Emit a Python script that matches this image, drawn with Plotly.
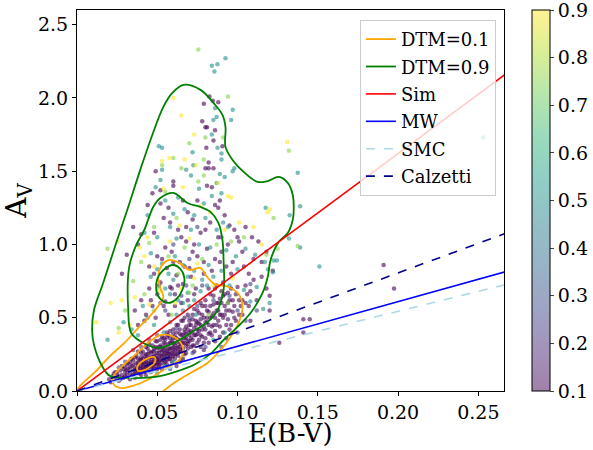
import plotly.graph_objects as go
import plotly.colors as pc

# ---------------- data ----------------
# scatter points grouped by DTM value (colour)
purple_x = [0.020,0.022,0.024,0.025,0.026,0.027,0.028,0.029,0.030,0.030,0.031,0.032,0.032,0.033,0.034,0.034,0.035,0.035,0.036,0.036,
            0.037,0.037,0.038,0.038,0.039,0.039,0.040,0.040,0.040,0.041,0.041,0.042,0.042,0.043,0.043,0.043,0.044,0.044,0.044,0.045,
            0.045,0.045,0.046,0.046,0.046,0.047,0.047,0.047,0.048,0.048,0.048,0.049,0.049,0.049,0.050,0.050,0.050,0.051,0.051,0.051,
            0.052,0.052,0.053,0.053,0.053,0.054,0.054,0.054,0.055,0.055,0.056,0.056,0.056,0.057,0.057,0.058,0.058,0.058,0.059,0.059,
            0.060,0.060,0.060,0.061,0.061,0.062,0.062,0.063,0.063,0.064,0.064,0.065,0.065,0.066,0.066,0.067,0.067,0.068,0.068,0.069,
            0.069,0.070,0.070,0.071,0.071,0.072,0.072,0.073,0.073,0.074,0.075,0.075,0.076,0.076,0.077,0.078,0.078,0.079,0.080,0.080,
            0.081,0.082,0.083,0.083,0.084,0.085,0.085,0.086,0.087,0.088,0.089,0.090,0.091,0.092,0.093,0.094,0.095,0.096,0.097,0.098,
            0.100,0.102,0.104,0.106,0.108,0.110,0.112,0.115,0.118,0.120,0.122,
            0.023,0.027,0.029,0.031,0.033,0.034,0.036,0.037,0.038,0.039,0.040,0.041,0.042,0.043,0.044,0.045,0.046,0.047,0.048,0.049,
            0.050,0.050,0.051,0.052,0.052,0.053,0.054,0.055,0.055,0.056,0.057,0.057,0.058,0.059,0.060,0.060,0.061,0.062,0.062,0.063,
            0.064,0.065,0.066,0.067,0.067,0.068,0.069,0.070,0.071,0.072,0.073,0.074,0.075,0.076,0.077,0.078,0.079,0.080,0.081,0.082,
            0.083,0.084,0.085,0.086,0.087,0.088,0.089,0.090,0.091,0.092,0.093,0.094,0.095,0.096,0.098,0.099,0.101,0.103,0.105,0.107,
            0.021,0.024,0.026,0.028,0.030,0.031,0.033,0.033,0.035,0.035,0.036,0.037,0.038,0.038,0.039,0.040,0.040,0.041,0.041,0.042,
            0.042,0.043,0.043,0.044,0.044,0.045,0.045,0.046,0.046,0.047,0.047,0.048,0.048,0.049,0.049,0.050,0.050,0.051,0.051,0.052,
            0.052,0.053,0.053,0.054,0.054,0.055,0.055,0.056,0.056,0.057,0.057,0.058,0.058,0.059,0.059,0.060,0.060,0.061,0.061,0.062,
            0.062,0.063,0.063,0.064,0.064,0.065,0.065,0.066,0.067,0.067,0.068,0.069,0.069,0.070,0.070,0.071,0.072,0.072,0.073,0.074,
            0.075,0.075,0.076,0.077,0.078,0.079,0.080,0.080,0.081,0.082,0.083,0.084,0.085,0.086,0.087,0.088,0.089,0.090,0.091,0.092,
            0.094,0.096,0.097,0.099,0.101,0.103,0.105,0.108,0.064,0.068,0.073,0.077,0.082,0.086,0.089,0.093,0.062,0.066,0.079,0.095,
            0.036,0.040,0.042,0.045,0.047,0.048,0.050,0.052,0.053,0.055,0.056,0.058,0.059,0.061,0.062,0.064,0.066,0.068,0.070,0.072,
            0.074,0.077,0.079,0.081,0.083,0.086,0.088,0.090,0.092,0.094,0.097,0.100,0.103,0.107,0.110,0.115,0.118,0.120,0.126,0.141,
            0.145,0.141,0.191,0.1975,
            0.038,0.043,0.046,0.049,0.051,0.054,0.057,0.059,0.061,0.063,0.065,0.067,0.069,0.071,0.073,0.075,0.077,0.079,0.082,0.084,
            0.087,0.089,0.091,0.093,0.060,0.055,0.050,0.065,0.073,0.080,0.045,0.048,0.058,0.068,
            0.035,0.040,0.044,0.047,0.049,0.052,0.054,0.057,0.060,0.060,0.063,0.066,0.069,0.072,0.075,0.078,0.079,0.080,0.081,0.0825,
            0.0846,0.088,0.086,0.085,0.0806,0.0906,0.082,0.080,0.082,0.085,0.081,0.084,0.086,0.088,0.089,0.095,0.098,0.101,0.105,0.109,
            0.113,0.052,0.038,0.031,0.028]
purple_y = [0.08,0.10,0.09,0.12,0.10,0.14,0.11,0.09,0.13,0.16,0.11,0.15,0.19,0.12,0.17,0.10,0.14,0.21,0.16,0.12,
            0.19,0.24,0.14,0.17,0.21,0.12,0.16,0.19,0.26,0.14,0.22,0.18,0.13,0.20,0.25,0.16,0.15,0.19,0.29,0.17,
            0.22,0.13,0.20,0.26,0.16,0.18,0.23,0.31,0.15,0.21,0.27,0.19,0.24,0.17,0.22,0.29,0.34,0.20,0.26,0.16,
            0.24,0.31,0.21,0.27,0.37,0.19,0.25,0.33,0.23,0.29,0.21,0.27,0.40,0.25,0.32,0.22,0.29,0.36,0.26,0.34,
            0.24,0.30,0.42,0.28,0.37,0.25,0.33,0.30,0.45,0.27,0.39,0.32,0.35,0.29,0.48,0.36,0.42,0.31,0.39,0.34,
            0.52,0.38,0.45,0.30,0.41,0.35,0.49,0.43,0.56,0.38,0.47,0.33,0.41,0.53,0.45,0.37,0.58,0.50,0.42,0.62,
            0.47,0.54,0.40,0.66,0.51,0.45,0.59,0.70,0.55,0.48,0.63,0.52,0.74,0.58,0.45,0.67,0.55,0.80,0.62,0.50,
            0.71,0.58,0.85,0.66,0.48,0.76,0.62,0.88,0.70,0.55,0.82,
            0.12,0.08,0.15,0.18,0.08,0.22,0.09,0.13,0.22,0.16,0.11,0.18,0.24,0.11,0.23,0.27,0.13,0.16,0.24,0.30,
            0.15,0.19,0.23,0.18,0.28,0.15,0.22,0.26,0.35,0.18,0.29,0.38,0.25,0.20,0.27,0.36,0.22,0.29,0.40,0.24,
            0.33,0.28,0.38,0.25,0.33,0.44,0.29,0.34,0.36,0.40,0.31,0.45,0.39,0.35,0.49,0.42,0.33,0.47,0.55,0.39,
            0.50,0.44,0.53,0.41,0.60,0.55,0.44,0.60,0.50,0.66,0.55,0.49,0.62,0.45,0.58,0.66,0.52,0.62,0.72,0.58,
            0.06,0.13,0.07,0.17,0.10,0.14,0.16,0.20,0.11,0.18,0.23,0.15,0.19,0.27,0.14,0.21,0.23,0.16,0.27,0.20,
            0.15,0.22,0.30,0.17,0.25,0.19,0.32,0.23,0.18,0.27,0.20,0.29,0.18,0.22,0.34,0.26,0.21,0.30,0.18,0.21,
            0.35,0.24,0.30,0.28,0.36,0.20,0.32,0.24,0.37,0.27,0.22,0.33,0.41,0.29,0.23,0.33,0.39,0.31,0.25,0.36,
            0.45,0.27,0.35,0.30,0.42,0.38,0.48,0.33,0.40,0.50,0.36,0.42,0.32,0.48,0.40,0.45,0.52,0.31,0.38,0.48,
            0.55,0.42,0.46,0.38,0.52,0.44,0.58,0.36,0.50,0.45,0.58,0.38,0.65,0.50,0.45,0.60,0.52,0.68,0.40,0.52,
            0.60,0.70,0.54,0.48,0.62,0.52,0.60,0.68,0.20,0.26,0.27,0.30,0.33,0.34,0.37,0.36,0.17,0.22,0.28,0.42,
            0.55,0.62,0.48,0.70,0.58,0.80,0.66,0.74,0.90,0.61,0.84,0.71,0.95,0.66,0.79,0.88,0.73,1.02,0.84,0.95,
            0.70,1.08,0.88,0.97,1.15,0.90,1.05,0.95,1.20,1.00,0.88,1.05,0.95,0.80,0.90,0.78,0.95,0.65,0.33,0.49,
            0.49,0.40,0.86,0.70,
            0.45,0.52,0.62,0.50,0.72,0.58,0.52,0.70,0.58,0.72,0.60,0.85,0.62,0.78,0.66,0.92,0.60,0.80,0.70,0.82,
            0.72,0.88,0.65,0.85,0.88,0.98,0.92,1.05,1.00,1.10,0.85,1.08,1.15,1.12,
            1.12,1.07,1.27,1.35,1.50,1.37,1.18,1.25,1.43,1.40,1.10,1.30,1.22,1.17,1.30,1.84,1.96,1.80,1.80,2.01,
            1.98,1.97,1.78,1.71,1.66,1.67,1.56,1.52,1.52,1.52,1.40,1.39,1.27,1.25,1.30,1.13,1.10,1.02,1.12,1.05,
            1.02,1.28,1.00,0.93,0.80]

indigo_x = [0.045,0.055,0.065,0.075,0.085,0.095,0.062,0.070,0.078,0.050,0.080,0.090,0.100,0.105,0.112,0.070,0.060,0.075,0.090,0.108,
            0.040,0.035,0.030,0.026,0.058,0.065,0.072,0.100,0.068,0.052]
indigo_y = [0.35,0.55,0.65,0.58,0.62,0.65,0.43,0.50,0.72,0.38,0.30,0.30,0.40,0.48,0.55,0.90,1.00,1.12,1.05,0.73,
            0.30,0.28,0.20,0.16,0.15,0.22,0.26,0.55,0.72,0.60]

teal_x = [0.084,0.0875,0.0856,0.0925,0.097,0.086,0.087,0.096,0.085,0.084,0.051,0.053,0.0875,0.072,0.090,0.090,0.053,0.068,0.0725,0.097,
          0.098,0.071,0.089,0.092,0.052,0.049,0.087,0.090,0.079,0.076,0.084,0.055,0.063,0.067,0.073,0.080,0.091,0.094,0.060,0.044,
          0.042,0.050,0.058,0.062,0.071,0.076,0.083,0.087,0.093,0.099,0.105,0.111,0.117,0.122,0.1245,0.1225,0.119,0.1175,0.139,0.1325,
          0.1375,0.139,0.132,0.151,0.253,0.046,0.053,0.057,0.061,0.066,0.069,0.073,0.078,0.082,0.046,0.050,0.055,0.058,0.060,0.063,
          0.066,0.069,0.073,0.077,0.081,0.085,0.090,0.095,0.100,0.104,0.108,0.112,0.116,0.120,0.041,0.044,0.048,0.038,0.034,0.029,
          0.019,0.054,0.058,0.062,0.066,0.070,0.074,0.085,0.092,0.055,0.060,0.050]
teal_y = [2.22,2.23,2.18,2.27,1.92,1.93,1.87,1.85,1.85,1.75,1.67,1.66,1.66,1.63,1.62,1.58,1.51,1.51,1.54,1.50,
          1.52,1.47,1.48,1.46,1.44,1.39,1.42,1.35,1.28,1.38,1.33,1.30,1.32,1.24,1.20,1.18,1.15,1.12,1.21,1.20,
          1.08,1.05,1.12,1.04,1.10,1.00,0.98,1.10,0.96,0.92,0.97,0.93,0.88,0.81,0.89,0.89,0.83,1.25,1.26,1.20,
          1.49,0.98,1.04,0.85,1.73,0.94,0.87,0.80,0.92,0.86,0.78,0.82,0.76,0.86,0.78,0.83,0.70,0.66,0.76,0.62,
          0.60,0.67,0.62,0.68,0.72,0.78,0.82,0.72,0.83,0.69,0.61,0.71,0.56,0.60,0.58,0.50,0.45,0.38,0.42,0.47,
          0.35,0.40,0.47,0.52,0.55,0.58,0.52,0.35,0.40,0.17,0.20,0.12]

green_x = [0.0756,0.094,0.080,0.091,0.070,0.060,0.079,0.053,0.065,0.0756,0.079,0.1375,0.132,0.1225,0.019,0.026,0.040,0.045,0.050,0.057,
           0.063,0.067,0.070,0.078,0.087,0.096,0.104,0.118,0.125,0.042,0.048,0.035,0.059,0.072,0.062,0.055,0.048,0.082,0.030,0.094]
green_y = [2.33,2.01,1.73,1.73,1.69,1.59,1.58,1.54,1.52,1.43,1.47,0.99,1.64,1.18,0.97,0.43,0.88,1.01,0.70,0.92,
           0.80,0.98,0.67,0.90,1.00,1.02,1.05,0.93,0.97,0.66,0.55,0.75,0.52,0.72,1.18,1.36,1.12,0.52,0.55,0.60]

yellow_x = [0.060,0.065,0.073,0.0575,0.067,0.074,0.053,0.131,0.120,0.119,0.054,0.094,0.096,0.088,0.012,0.026,0.042,0.044,0.048,0.058,
            0.064,0.070,0.075,0.083,0.092,0.101,0.110,0.036,0.033,0.045,0.052,0.065,0.073,0.085,0.097,0.061,0.021,0.028,0.025,0.115,
            0.077,0.066,0.039]
yellow_y = [2.00,1.88,1.75,1.59,1.58,1.54,1.57,1.70,1.24,1.22,1.38,1.33,1.32,1.42,0.47,0.40,0.92,1.05,0.85,1.02,
            1.13,1.04,0.87,1.22,1.10,1.15,1.12,0.64,0.45,0.59,0.68,0.70,0.77,0.72,0.77,0.60,0.60,0.62,1.02,1.00,
            1.26,1.39,0.98]

group_values = {"purple": 0.1, "indigo": 0.25, "teal": 0.5, "green": 0.75, "yellow": 0.9}

# colour-bar ticks
cbar_ticks = [0.1, 0.2, 0.3, 0.4, 0.5, 0.6, 0.7, 0.8, 0.9]

# density contours (closed paths)
orange_outer_x = [-0.0044,0.0013,0.0113,0.020,0.030,0.0388,0.0456,0.0506,0.0538,0.0519,0.0506,0.0525,0.0575,0.0638,0.070,0.0769,0.0806,0.0856,0.0944,0.1006,
                  0.1031,0.1006,0.0956,0.0894,0.0813,0.0706,0.0613,0.0531,0.0469,-0.0044]
orange_outer_y = [-0.075,0.027,0.130,0.232,0.334,0.437,0.512,0.580,0.642,0.703,0.785,0.853,0.894,0.874,0.826,0.840,0.785,0.730,0.710,0.662,
                  0.573,0.464,0.369,0.280,0.191,0.123,0.061,-0.007,-0.075,-0.075]
orange_mid_x = [0.0519,0.0594,0.0644,0.0663,0.0638,0.0581,0.0519,0.0438,0.0363,0.0281,0.0231,0.0225,0.0269,0.0375,0.0456,0.0519]
orange_mid_y = [0.382,0.375,0.334,0.280,0.212,0.171,0.130,0.075,0.041,0.020,0.041,0.096,0.157,0.259,0.341,0.382]
orange_in_x = [0.0375,0.040,0.0444,0.0481,0.0488,0.0463,0.0419,0.0381,0.0375]
orange_in_y = [0.164,0.198,0.225,0.232,0.205,0.171,0.143,0.137,0.164]

green_outer_x = [0.0663,0.0769,0.085,0.0906,0.0925,0.0925,0.0969,0.1038,0.1125,0.1188,0.1256,0.1313,0.1344,0.135,0.1344,0.1313,0.1256,0.1206,0.1188,0.1156,
                 0.1081,0.100,0.0913,0.0831,0.0738,0.0613,0.0488,0.0331,0.0206,0.0156,0.0106,0.0094,0.0106,0.0163,0.0244,0.0313,0.0394,0.0469,0.0538,0.0594,0.0663]
green_outer_y = [2.089,2.055,1.966,1.884,1.802,1.666,1.577,1.495,1.427,1.433,1.461,1.420,1.338,1.235,1.167,1.078,1.017,0.894,0.778,0.669,
                 0.532,0.437,0.348,0.253,0.184,0.130,0.096,0.089,0.102,0.171,0.314,0.416,0.553,0.737,1.010,1.235,1.509,1.747,1.939,2.034,2.089]
green_mid_x = [0.060,0.0688,0.0769,0.0831,0.0881,0.0906,0.0913,0.0913,0.0869,0.0806,0.0706,0.0638,0.0513,0.0413,0.0338,0.0319,0.0325,0.0369,0.0419,0.0475,0.0519,0.060]
green_mid_y = [1.352,1.283,1.256,1.222,1.147,1.031,0.894,0.689,0.539,0.464,0.396,0.348,0.294,0.328,0.396,0.553,0.846,0.997,1.099,1.256,1.317,1.352]
green_in_x = [0.060,0.0644,0.0669,0.0656,0.0619,0.0569,0.0519,0.0494,0.050,0.0538,0.060]
green_in_y = [0.860,0.833,0.771,0.689,0.628,0.601,0.628,0.689,0.765,0.826,0.860]

# extinction laws A_V = R * E(B-V)
ebv_ends = [0.0, 0.27]
R_sim, R_mw, R_smc, R_calz = 8.1, 3.05, 2.72, 4.03

# ---------------- figure ----------------
FONT = "DejaVu Serif"
fig = go.Figure()

all_x, all_y, all_c = [], [], []
for name, xs, ys in [("purple", purple_x, purple_y), ("indigo", indigo_x, indigo_y),
                     ("teal", teal_x, teal_y), ("green", green_x, green_y), ("yellow", yellow_x, yellow_y)]:
    all_x += xs
    all_y += ys
    all_c += [group_values[name]] * len(xs)

fig.add_trace(go.Scatter(x=all_x, y=all_y, mode="markers", showlegend=False, hoverinfo="skip",
                         marker=dict(size=4.5, color=all_c, colorscale="Viridis", cmin=0.1, cmax=0.9,
                                     opacity=0.6, line=dict(width=0))))

def contour(xs, ys, color, name, show):
    fig.add_trace(go.Scatter(x=xs, y=ys, mode="lines", name=name, showlegend=show, legendgroup=name,
                             line=dict(color=color, width=1.8, shape="spline", smoothing=1.0), hoverinfo="skip"))

contour(orange_outer_x, orange_outer_y, "#ffa500", "DTM=0.1", True)
contour(orange_mid_x, orange_mid_y, "#ffa500", "DTM=0.1", False)
contour(orange_in_x, orange_in_y, "#ffa500", "DTM=0.1", False)
contour(green_outer_x, green_outer_y, "#008000", "DTM=0.9", True)
contour(green_mid_x, green_mid_y, "#008000", "DTM=0.9", False)
contour(green_in_x, green_in_y, "#008000", "DTM=0.9", False)

for name, R, color, dash in [("Sim", R_sim, "#ff0000", "solid"), ("MW", R_mw, "#0000ff", "solid"),
                             ("SMC", R_smc, "#add8e6", "dash"), ("Calzetti", R_calz, "#00008b", "dash")]:
    fig.add_trace(go.Scatter(x=ebv_ends, y=[R * e for e in ebv_ends], mode="lines", name=name, legendgroup=name,
                             line=dict(color=color, width=1.6, dash=dash), hoverinfo="skip"))

# faded viridis for the colour bar (alpha 0.5 on white)
faded = []
vir = pc.sequential.Viridis
for i, h in enumerate(vir):
    r, g, b = pc.hex_to_rgb(h)
    faded.append([i / (len(vir) - 1), f"rgb({int(0.5*r+127.5)},{int(0.5*g+127.5)},{int(0.5*b+127.5)})"])

tick_pos = [min(max(t, 0.1 + 1e-6), 0.9 - 1e-6) for t in cbar_ticks]
fig.add_trace(go.Scatter(x=[None], y=[None], mode="markers", showlegend=False, hoverinfo="skip",
                         marker=dict(color=[0.5], colorscale=faded, cmin=0.1, cmax=0.9, showscale=True,
                                     colorbar=dict(x=(532 - 77) / 427, xanchor="left", xref="paper", xpad=0,
                                                   y=0.5, yanchor="middle", yref="paper", ypad=0,
                                                   len=1, lenmode="fraction", thickness=18,
                                                   outlinewidth=1, outlinecolor="black",
                                                   tickvals=tick_pos, ticktext=[f"{t:.1f}" for t in cbar_ticks],
                                                   tickmode="array", ticks="outside", ticklen=4,
                                                   ticklabeloverflow="allow",
                                                   tickfont=dict(family=FONT, size=19, color="black")))))

axis_common = dict(showline=True, mirror=True, linecolor="black", linewidth=1, ticks="outside", ticklen=4,
                   tickcolor="black", showgrid=False, zeroline=False, automargin=False,
                   tickfont=dict(family=FONT, size=19, color="black"))
fig.update_layout(
    width=593, height=450, autosize=False,
    margin=dict(l=77, r=89, t=10, b=59, pad=0, autoexpand=False),
    paper_bgcolor="white", plot_bgcolor="white",
    xaxis=dict(range=[0, 0.266], dtick=0.05, tick0=0, tickformat=".2f", **axis_common),
    yaxis=dict(range=[0, 2.6], dtick=0.5, tick0=0, tickformat=".1f",
               title=dict(text="A<sub>V</sub>", font=dict(family=FONT, size=28, color="black"), standoff=6),
               **axis_common),
    annotations=[dict(text="E(B-V)", xref="paper", yref="paper", x=0.5, y=(391 - 433) / 381,
                      xanchor="center", yanchor="middle", showarrow=False,
                      font=dict(family=FONT, size=26, color="black"))],
    legend=dict(x=0.981, xanchor="right", y=0.974, yanchor="top", bgcolor="rgba(255,255,255,0.8)",
                bordercolor="#cccccc", borderwidth=1, font=dict(family=FONT, size=18, color="black"),
                tracegroupgap=1, traceorder="grouped"),
    showlegend=True,
)

fig.write_html("out.html")
